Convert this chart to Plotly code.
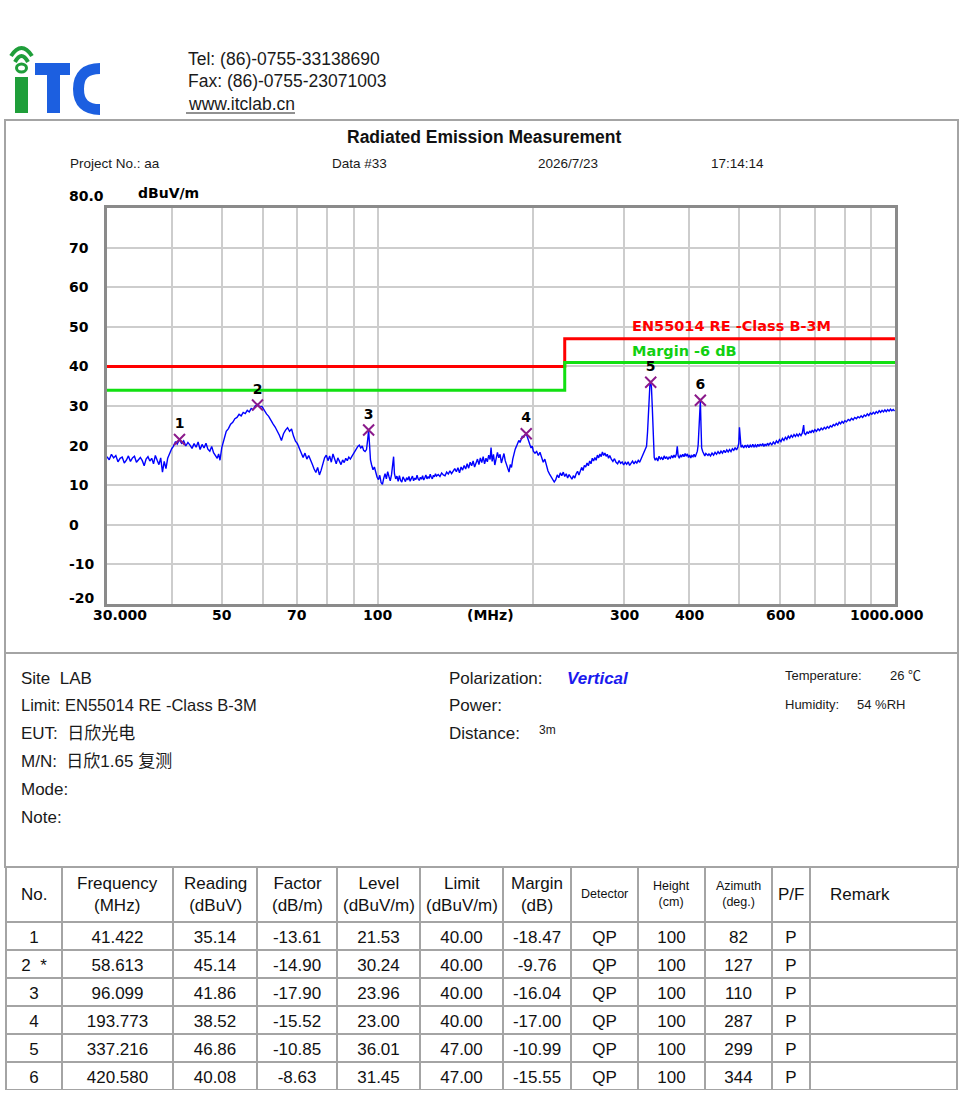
import math
import plotly.graph_objects as go

# blue scan trace: (MHz, dBuV/m)
scan = [
    (30.0, 17.2), (30.3, 16.4), (30.6, 17.8), (30.9, 16.9), (31.2, 17.5), (31.5, 15.9), (31.8, 16.8),
    (32.1, 17.1), (32.4, 15.6), (32.7, 16.3), (33.0, 17.4), (33.3, 16.0), (33.6, 16.9), (33.9, 17.3),
    (34.2, 15.8), (34.5, 16.5), (34.8, 17.0), (35.1, 16.2), (35.4, 14.9), (35.7, 16.6), (36.0, 17.2),
    (36.3, 16.1), (36.6, 16.8), (36.9, 15.4), (37.2, 17.5), (37.5, 16.3), (37.8, 15.2), (38.1, 16.9),
    (38.4, 13.3), (38.7, 16.0), (39.0, 14.2), (39.3, 16.8), (39.6, 17.9), (40.0, 19.2),
    (40.3, 19.8), (40.7, 21.0), (41.0, 20.4), (41.4, 21.5), (41.8, 20.6), (42.2, 21.2), (42.6, 19.9),
    (43.0, 20.8), (43.4, 20.1), (43.8, 19.3), (44.2, 20.5), (44.6, 19.6), (45.0, 20.9), (45.4, 19.0),
    (45.8, 20.3), (46.2, 19.4), (46.6, 20.6), (47.0, 19.1), (47.4, 18.6), (47.8, 19.8), (48.2, 18.2),
    (48.6, 17.4), (49.0, 16.8), (49.3, 17.9), (49.6, 16.3),
    (50.0, 19.5), (50.5, 21.8), (51.0, 23.6), (51.5, 24.3), (52.0, 25.4), (52.5, 25.9), (53.0, 26.8),
    (53.5, 27.1), (54.0, 27.9), (54.5, 27.5), (55.0, 28.4), (55.5, 28.1), (56.0, 28.9), (56.5, 28.5),
    (57.0, 29.4), (57.5, 29.1), (58.0, 30.0), (58.6, 30.4), (59.2, 29.8), (59.8, 29.9), (60.4, 28.9),
    (61.0, 28.0), (61.6, 27.4), (62.2, 26.3), (62.8, 25.5), (63.4, 24.7), (64.0, 23.8), (64.6, 22.6),
    (65.2, 21.3), (65.8, 23.0), (66.4, 23.9), (67.0, 24.5), (67.6, 23.6), (68.2, 24.2), (68.8, 22.4),
    (69.4, 21.1), (70.0, 20.5), (70.6, 19.3), (71.2, 18.2), (71.8, 17.0), (72.4, 18.1), (73.0, 16.6),
    (73.6, 17.5), (74.2, 16.1), (74.8, 15.3), (75.4, 14.1), (76.0, 13.2), (76.6, 14.5), (77.2, 12.6),
    (77.8, 13.8), (78.4, 15.7), (79.0, 16.9), (79.6, 17.6), (80.2, 16.2), (80.8, 17.4), (81.4, 15.8),
    (82.0, 17.9), (82.6, 16.3), (83.2, 15.4), (83.8, 16.9), (84.4, 16.1), (85.0, 15.2), (85.6, 16.4),
    (86.2, 15.7), (86.8, 16.8), (87.4, 16.2), (88.0, 17.1), (88.6, 16.6), (89.2, 17.3), (89.8, 18.0),
    (90.4, 18.4), (91.0, 19.2), (91.6, 19.8), (92.2, 20.1), (92.8, 19.4), (93.4, 19.9), (94.0, 18.8),
    (94.6, 18.5), (95.2, 19.0), (95.7, 21.5), (96.1, 23.9), (96.5, 20.2), (96.9, 16.4), (97.4, 15.1),
    (98.0, 13.9), (98.6, 14.6), (99.2, 12.8), (99.8, 12.0), (100.4, 11.4), (101.0, 12.5), (101.6, 10.6),
    (102.2, 10.2), (102.8, 11.8), (103.4, 12.9), (104.0, 11.6), (104.6, 13.4), (105.2, 12.2),
    (105.8, 11.1), (106.4, 12.6), (107.0, 14.8), (107.4, 17.2), (107.8, 12.9), (108.4, 11.6),
    (109.0, 12.3), (109.6, 11.0),
    (110.2, 12.4), (110.8, 11.2), (111.4, 10.8), (112.0, 12.1), (112.6, 11.5), (113.2, 10.9),
    (113.8, 11.9), (114.4, 11.3), (115.0, 12.2), (115.6, 11.0), (116.2, 11.7), (116.8, 12.3),
    (117.4, 11.1), (118.0, 11.8), (118.6, 11.4), (119.2, 12.5), (119.8, 11.6), (120.4, 11.2),
    (121.0, 12.0), (121.6, 11.5), (122.2, 12.4), (122.8, 11.3), (123.4, 11.9), (124.0, 12.6),
    (124.6, 11.6), (125.2, 12.2), (125.8, 11.7), (126.4, 12.8), (127.0, 12.0), (127.6, 11.6),
    (128.2, 12.5), (128.8, 12.1), (129.4, 12.9), (130.0, 12.3), (131.0, 12.7), (132.0, 12.2),
    (133.0, 13.1), (134.0, 12.6), (135.0, 12.4), (136.0, 13.3), (137.0, 12.8), (138.0, 13.6),
    (139.0, 12.9), (140.0, 13.5), (141.0, 14.2), (142.0, 13.4), (143.0, 14.4), (144.0, 13.1),
    (145.0, 14.6), (146.0, 13.8), (147.0, 15.0), (148.0, 14.1), (149.0, 15.4), (150.0, 14.3),
    (151.0, 15.8), (152.0, 14.9), (153.0, 16.1), (154.0, 14.6), (155.0, 15.5), (156.0, 16.6),
    (157.0, 15.2), (158.0, 16.9), (159.0, 15.7), (160.0, 17.2), (161.0, 15.4), (162.0, 16.8),
    (163.0, 15.9), (164.0, 17.6), (165.0, 16.5), (165.7, 19.5), (166.5, 16.0), (167.5, 17.8),
    (168.5, 15.1), (169.5, 16.4), (170.5, 18.3), (171.5, 16.9), (172.5, 17.8), (173.5, 15.6),
    (174.5, 17.2), (175.5, 18.0), (176.5, 16.2), (177.5, 15.0), (178.5, 14.1), (179.5, 13.3),
    (180.5, 15.2), (181.5, 14.5), (182.5, 16.6), (183.5, 18.0), (184.5, 19.1), (185.5, 19.8),
    (186.5, 20.4), (187.5, 21.3), (188.5, 20.8), (189.5, 21.9), (190.5, 22.4), (191.5, 22.0),
    (192.5, 22.7), (193.8, 23.0), (195.0, 21.7), (196.0, 20.8), (197.0, 20.2), (198.0, 19.4),
    (199.0, 19.9), (200.0, 18.6), (201.5, 18.1), (203.0, 18.5), (204.5, 17.5), (206.0, 18.3),
    (207.5, 16.9), (209.0, 15.8), (210.5, 16.6), (212.0, 14.9), (213.5, 13.6), (215.0, 12.8),
    (216.5, 12.0), (218.0, 11.2), (219.5, 10.8), (221.0, 11.4), (222.5, 12.6), (224.0, 11.9),
    (225.5, 13.1), (227.0, 12.4), (228.5, 13.3), (230.0, 12.2), (231.5, 12.9), (233.0, 11.8),
    (234.5, 12.7), (236.0, 12.1), (237.5, 11.5), (239.0, 12.4), (240.5, 11.8), (242.0, 12.9),
    (243.5, 13.5), (245.0, 12.6), (246.5, 13.8), (248.0, 14.5), (249.5, 13.7), (251.0, 15.0),
    (252.5, 14.6), (254.0, 15.6), (255.5, 14.9), (257.0, 16.1), (258.5, 15.4), (260.0, 16.8),
    (261.5, 16.1), (263.0, 17.0), (264.5, 16.3), (266.0, 17.6), (267.5, 16.9), (269.0, 17.9),
    (270.5, 17.2), (272.0, 18.4), (273.5, 17.5), (275.0, 18.1), (276.5, 17.3), (278.0, 17.8),
    (279.5, 16.8), (281.0, 17.5), (283.0, 16.6), (285.0, 16.0), (287.0, 16.7), (289.0, 15.8),
    (291.0, 15.4), (293.0, 16.2), (295.0, 15.5), (297.0, 15.9), (299.0, 15.1), (301.0, 15.8),
    (303.0, 15.3), (305.0, 15.9), (307.0, 15.0), (309.0, 15.7), (311.0, 16.1), (313.0, 15.4),
    (315.0, 16.0), (317.0, 15.6), (319.0, 16.3), (321.0, 15.8), (323.0, 16.6), (325.0, 17.4),
    (327.0, 17.9), (329.0, 18.6), (331.0, 19.8), (332.5, 23.5), (333.5, 28.0), (335.0, 33.5),
    (336.0, 35.4), (337.2, 36.0), (338.3, 34.8), (339.5, 30.0), (340.5, 24.0), (341.5, 19.2),
    (342.5, 17.0), (344.0, 16.3), (346.0, 16.9), (348.0, 16.1), (350.0, 17.3), (352.0, 16.6),
    (354.0, 17.0), (356.0, 16.4), (358.0, 17.4), (360.0, 16.7), (362.0, 17.2), (364.0, 16.5),
    (366.0, 17.1), (368.0, 16.8), (370.0, 17.5), (372.0, 16.9), (374.0, 17.6), (376.0, 17.0),
    (378.0, 17.9), (379.5, 19.8), (381.0, 17.4), (383.0, 16.8), (385.0, 17.7), (387.0, 17.1),
    (389.0, 17.8), (391.0, 17.2), (393.0, 18.0), (395.0, 17.3), (397.0, 17.9), (399.0, 17.0),
    (401.0, 17.6), (403.0, 16.9), (405.0, 17.5), (407.0, 17.2), (409.0, 17.8), (411.0, 17.1),
    (413.0, 17.9), (415.0, 18.6), (416.5, 20.2), (418.0, 24.5), (419.5, 28.8), (420.6, 31.4),
    (421.8, 25.0), (423.0, 19.4), (425.0, 18.5), (427.0, 17.8), (429.0, 17.4), (431.0, 18.0),
    (433.0, 17.6), (435.0, 17.5), (437.0, 17.9), (440.0, 17.4), (443.0, 18.1), (446.0, 17.6),
    (449.0, 18.3), (452.0, 17.8), (455.0, 18.5), (458.0, 17.9), (461.0, 18.6), (464.0, 18.1),
    (467.0, 18.8), (470.0, 18.2), (473.0, 18.9), (476.0, 18.4), (479.0, 19.0), (482.0, 18.5),
    (485.0, 19.2), (488.0, 18.8), (491.0, 19.5), (494.0, 18.9), (497.0, 19.6), (499.0, 20.6),
    (500.5, 24.6), (502.0, 21.0), (504.0, 19.6), (507.0, 20.0), (510.0, 19.4), (513.0, 20.1),
    (516.0, 19.6), (519.0, 20.2), (522.0, 19.5), (525.0, 20.1), (528.0, 19.6), (531.0, 20.3),
    (534.0, 19.7), (537.0, 20.2), (540.0, 19.6), (543.0, 20.3), (546.0, 19.8), (549.0, 20.4),
    (552.0, 19.9), (555.0, 20.5), (558.0, 19.8), (561.0, 20.4), (564.0, 19.9), (567.0, 20.6),
    (570.0, 20.1), (574.0, 20.7), (578.0, 20.2), (582.0, 20.9), (586.0, 20.4), (590.0, 21.2),
    (594.0, 20.7), (598.0, 21.5), (602.0, 21.0), (606.0, 21.8), (610.0, 21.3), (614.0, 22.1),
    (618.0, 21.6), (622.0, 22.4), (626.0, 21.9), (630.0, 22.6), (634.0, 22.1), (638.0, 22.8),
    (642.0, 22.3), (646.0, 22.9), (650.0, 22.4), (654.0, 23.0), (658.0, 22.5), (662.0, 23.2),
    (664.0, 24.4), (666.0, 25.2), (668.0, 23.1), (672.0, 22.8), (676.0, 23.5), (680.0, 23.0),
    (684.0, 23.7), (688.0, 23.2), (692.0, 23.9), (696.0, 23.4), (700.0, 24.0), (705.0, 23.6),
    (710.0, 24.2), (715.0, 23.8), (720.0, 24.4), (725.0, 24.0), (730.0, 24.6), (735.0, 24.2),
    (740.0, 24.8), (745.0, 24.4), (750.0, 25.0), (755.0, 24.7), (760.0, 25.3), (765.0, 25.0),
    (770.0, 25.6), (775.0, 25.2), (780.0, 25.9), (785.0, 25.5), (790.0, 26.1), (795.0, 25.7),
    (800.0, 26.3), (806.0, 26.0), (812.0, 26.6), (818.0, 26.3), (824.0, 26.9), (830.0, 26.5),
    (836.0, 27.1), (842.0, 26.8), (848.0, 27.3), (854.0, 27.0), (860.0, 27.5), (866.0, 27.1),
    (872.0, 27.7), (878.0, 27.4), (884.0, 28.0), (890.0, 27.6), (896.0, 28.2), (902.0, 27.9),
    (908.0, 28.4), (914.0, 28.0), (920.0, 28.6), (926.0, 28.2), (932.0, 28.8), (938.0, 28.4),
    (944.0, 28.9), (950.0, 28.5), (956.0, 29.0), (962.0, 28.6), (968.0, 29.1), (974.0, 28.7),
    (980.0, 29.2), (986.0, 28.8), (992.0, 29.1), (998.0, 28.7),
]
scan_freq = [p[0] for p in scan]
scan_level = [p[1] for p in scan]

limit_freq = [30, 230, 230, 1000]
limit_level = [40, 40, 47, 47]
margin_level = [34, 34, 41, 41]

# peak table
peak_no = ["1", "2  *", "3", "4", "5", "6"]
peak_freq = [41.422, 58.613, 96.099, 193.773, 337.216, 420.580]
reading = [35.14, 45.14, 41.86, 38.52, 46.86, 40.08]
factor = [-13.61, -14.90, -17.90, -15.52, -10.85, -8.63]
level = [21.53, 30.24, 23.96, 23.00, 36.01, 31.45]
limit = [40.00, 40.00, 40.00, 40.00, 47.00, 47.00]
margin = [-18.47, -9.76, -16.04, -17.00, -10.99, -15.55]
detector = ["QP", "QP", "QP", "QP", "QP", "QP"]
height_cm = [100, 100, 100, 100, 100, 100]
azimuth = [82, 127, 110, 287, 299, 344]
pass_fail = ["P", "P", "P", "P", "P", "P"]
remark = ["", "", "", "", "", ""]

table_head = ["No.", "Frequency<br>(MHz)", "Reading<br>(dBuV)", "Factor<br>(dB/m)",
              "Level<br>(dBuV/m)", "Limit<br>(dBuV/m)", "Margin<br>(dB)", "Detector",
              "Height<br>(cm)", "Azimuth<br>(deg.)", "P/F", "Remark"]
head_size = [17, 17, 17, 17, 17, 17, 17, 12.5, 12.5, 12.5, 17, 17]
col_px = [56, 111, 84, 80, 83, 83, 68, 67, 67, 67, 38, 147]

x_grid = [30, 40, 50, 60, 70, 80, 90, 100, 200, 300, 400, 500, 600, 700, 800, 900, 1000]
x_label_at = [30, 50, 70, 100, 165, 300, 400, 600, 1000]
x_label_text = ["30.000", "50", "70", "100", "(MHz)", "300", "400", "600", "1000.000"]
x_label_shift = [13, 0, 0, 0, 0, 0, 0, 0, -8]
y_ticks = [-20, -10, 0, 10, 20, 30, 40, 50, 60, 70]

W, H = 960, 1100
ARIAL = "Liberation Sans, Arial, Noto Sans CJK SC"
BOLDF = "DejaVu Sans"
GREEN = "#1f9e3a"
BLUE = "#1c5fe0"
FRAME = "#a4a4a4"


def px(x):
    return x / W


def py(y):
    return 1 - y / H


fig = go.Figure()

fig.add_trace(go.Scatter(x=scan_freq, y=scan_level, mode="lines",
                         line=dict(color="#0000ff", width=1.4)))
fig.add_trace(go.Scatter(x=limit_freq, y=limit_level, mode="lines",
                         line=dict(color="#ff0000", width=3)))
fig.add_trace(go.Scatter(x=limit_freq, y=margin_level, mode="lines",
                         line=dict(color="#11e011", width=3)))
fig.add_trace(go.Scatter(x=peak_freq, y=level, mode="markers+text",
                         text=[str(i + 1) for i in range(len(peak_freq))],
                         textposition="top center",
                         textfont=dict(family=BOLDF, size=14, color="black", weight="bold"),
                         marker=dict(symbol="x-thin", size=11,
                                     line=dict(width=2, color="#8b1a8b"))))

# header texts are put on as annotations so that they center in both directions
fig.add_trace(go.Table(
    domain=dict(x=[px(6), px(957)], y=[py(1091), py(867)]),
    columnwidth=col_px,
    header=dict(values=[""] * len(table_head), height=55, fill_color="white",
                line=dict(color=FRAME, width=2)),
    cells=dict(values=[peak_no, peak_freq, reading, factor, level, limit, margin,
                       detector, height_cm, azimuth, pass_fail, remark],
               format=["", ".3f", ".2f", ".2f", ".2f", ".2f", ".2f", "", "", "", "", ""],
               height=28, fill_color="white", align="center",
               line=dict(color=FRAME, width=2),
               font=dict(family=ARIAL, color="#111", size=17)),
))

left = 6
for head, size, wpx in zip(table_head, head_size, col_px):
    if head == "Remark":
        xa, xx = "left", left + 18
    else:
        xa, xx = "center", left + wpx / 2
    fig.add_annotation(xref="paper", yref="paper", x=px(xx), y=py(894), text=head,
                       xanchor=xa, yanchor="middle", align="center", showarrow=False,
                       font=dict(family=ARIAL, size=size, color="#111"))
    left += wpx

fig.update_xaxes(type="log", range=[math.log10(30), math.log10(1000)],
                 domain=[px(107), px(895)], tickvals=x_grid, showticklabels=False,
                 showgrid=True, gridcolor="#cdcdcd", gridwidth=1.5,
                 showline=True, mirror=True, linecolor="#8a8a8a", linewidth=2.5,
                 ticks="", zeroline=False)
fig.update_yaxes(range=[-20, 80], domain=[py(604), py(208)],
                 tickvals=y_ticks + [80], showticklabels=False,
                 showgrid=True, gridcolor="#cdcdcd", gridwidth=1.5,
                 showline=True, mirror=True, linecolor="#8a8a8a", linewidth=2.5,
                 ticks="", zeroline=False)

# y tick labels sit left aligned in the margin
for v in y_ticks:
    fig.add_annotation(xref="paper", yref="y", x=px(67), y=v, text=str(v),
                       xanchor="left", yanchor="middle", showarrow=False,
                       yshift=6 if v == -20 else 0,
                       font=dict(family=BOLDF, size=14, color="black", weight="bold"))

for f, txt, shift in zip(x_label_at, x_label_text, x_label_shift):
    fig.add_annotation(xref="x", yref="paper", x=math.log10(f), y=py(615), text=txt,
                       xanchor="center", yanchor="middle", showarrow=False, xshift=shift,
                       font=dict(family=BOLDF, size=14, color="black", weight="bold"))

fig.add_annotation(xref="x", yref="y", x=math.log10(307), y=50.2,
                   text="EN55014 RE -Class B-3M", xanchor="left", showarrow=False,
                   font=dict(family=BOLDF, size=14.5, color="#ff0000", weight="bold"))
fig.add_annotation(xref="x", yref="y", x=math.log10(307), y=43.9,
                   text="Margin -6 dB", xanchor="left", showarrow=False,
                   font=dict(family=BOLDF, size=14.5, color="#11d011", weight="bold"))


def note(text, x, y, size, anchor="left", color="#1a1a1a", family=ARIAL, **font):
    fig.add_annotation(xref="paper", yref="paper", x=px(x), y=py(y), text=text,
                       xanchor=anchor, yanchor="middle", showarrow=False,
                       font=dict(family=family, size=size, color=color, **font))


# header block
note("Tel: (86)-0755-33138690", 186, 59, 17.5)
note("Fax: (86)-0755-23071003", 186, 81, 17.5)
note("www.itclab.cn", 186, 104, 17.5)

note("Radiated Emission Measurement", 484, 137, 17.5, anchor="center", weight="bold", color="#111")
note("Project No.: aa", 68, 163, 13.5)
note("Data #33", 330, 163, 13.5)
note("2026/7/23", 536, 163, 13.5)
note("17:14:14", 709, 163, 13.5)
note("80.0", 67, 196, 14, family=BOLDF, weight="bold", color="black")
note("dBuV/m", 136, 193, 14, family=BOLDF, weight="bold", color="black")

# info block
note("Site  LAB", 19, 678, 17)
note("Limit: EN55014 RE -Class B-3M", 19, 705, 16.5)
note("EUT:  日欣光电", 19, 733, 17)
note("M/N:  日欣1.65 复测", 19, 761, 17)
note("Mode:", 19, 789, 17)
note("Note:", 19, 817, 17)
note("Polarization:", 447, 678, 17)
note("Vertical", 565, 678, 17, color="#1a1aee", weight="bold", style="italic")
note("Power:", 447, 705, 17)
note("Distance:", 447, 733, 17)
note("3m", 537, 730, 12)
note("Temperature:", 783, 675, 13)
note("26 ℃", 888, 675, 13)
note("Humidity:", 783, 704, 13)
note("54 %RH", 855, 704, 13)

shapes = [
    # underline of the web address
    dict(type="line", x0=px(186), x1=px(295), y0=py(113), y1=py(113),
         line=dict(color="#222", width=1)),
    # outer frame of chart and info blocks
    dict(type="rect", x0=px(5), x1=px(958), y0=py(867), y1=py(120),
         line=dict(color=FRAME, width=2)),
    dict(type="line", x0=px(5), x1=px(958), y0=py(653), y1=py(653),
         line=dict(color=FRAME, width=2)),
    # logo: wifi arcs, i, T, C
    dict(type="path", path=f"M{px(11)},{py(56)} Q{px(21.5)},{py(40)} {px(32)},{py(56)}",
         line=dict(color=GREEN, width=4)),
    dict(type="path", path=f"M{px(15)},{py(62)} Q{px(21.5)},{py(50)} {px(28)},{py(62)}",
         line=dict(color=GREEN, width=4)),
    dict(type="circle", x0=px(16.5), x1=px(26.5), y0=py(72), y1=py(64),
         line=dict(color=GREEN, width=3)),
    dict(type="rect", x0=px(15), x1=px(28), y0=py(113), y1=py(77),
         fillcolor=GREEN, line=dict(width=0)),
    dict(type="rect", x0=px(35), x1=px(70), y0=py(75), y1=py(63),
         fillcolor=BLUE, line=dict(width=0)),
    dict(type="rect", x0=px(47), x1=px(60), y0=py(113), y1=py(75),
         fillcolor=BLUE, line=dict(width=0)),
    dict(type="path",
         path=(f"M{px(100)},{py(68.5)} Q{px(78.5)},{py(68.5)} {px(78.5)},{py(89)} "
               f"Q{px(78.5)},{py(109.5)} {px(100)},{py(109.5)}"),
         line=dict(color=BLUE, width=11)),
]
for s in shapes:
    s.setdefault("xref", "paper")
    s.setdefault("yref", "paper")
    fig.add_shape(**s)

fig.update_layout(width=W, height=H, margin=dict(l=0, r=0, t=0, b=0),
                  autosize=False, showlegend=False,
                  paper_bgcolor="white", plot_bgcolor="white")

# drop the page's default body margin so the figure sits at the window corner
fig.write_html("out.html", config={"displayModeBar": False},
               post_script="document.body.style.margin='0px';"
                           "document.body.style.overflow='hidden';")
